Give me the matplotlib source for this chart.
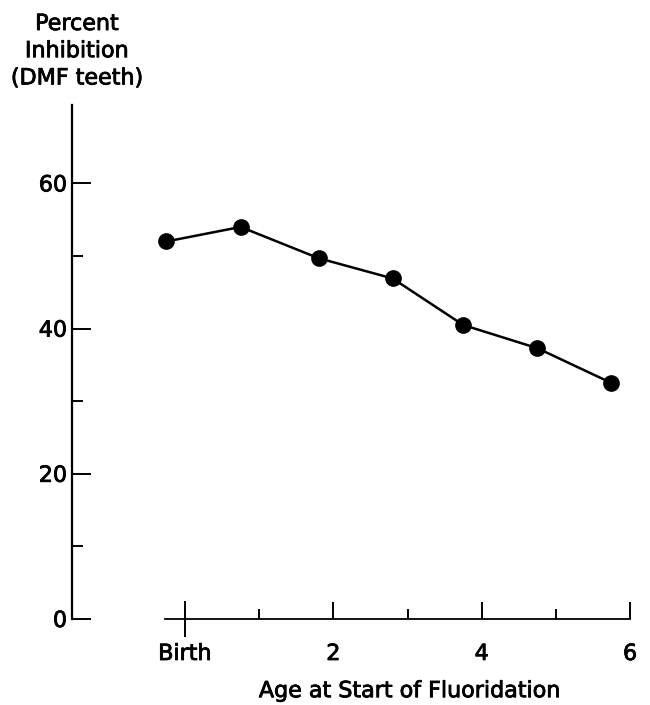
import matplotlib
matplotlib.use('Agg')
import matplotlib.pyplot as plt
import matplotlib.patheffects as pe
from matplotlib.ticker import FixedLocator

plt.rcParams['font.family'] = ['DejaVu Sans']

# age at start of fluoridation (years, 0 = birth) and percent inhibition
age = [-0.25, 0.75, 1.8, 2.8, 3.75, 4.75, 5.75]
inhibition = [52.0, 54.0, 49.7, 46.9, 40.5, 37.3, 32.5]

xticks = [0, 2, 4, 6]
xticklabels = ['Birth', '2', '4', '6']
xminor = [1, 3, 5]
yticks = [0, 20, 40, 60]
yminor = [10, 30, 50]

# slightly heavier strokes, like the printed original
heavy = [pe.withStroke(linewidth=0.6, foreground='black')]

fig = plt.figure(figsize=(6.5, 7.05), dpi=100)
ax = fig.add_axes([0.1108, 0.1220, 0.975 - 0.1108, 0.8511 - 0.1220])

ax.plot(age, inhibition, color='black', lw=1.8, marker='o', ms=11,
        markerfacecolor='black', clip_on=False)

ax.set_xlim(-1.523, 6.05)
ax.set_ylim(0, 70.8)

for side in ['top', 'right']:
    ax.spines[side].set_visible(False)
ax.spines['left'].set_linewidth(1.6)
ax.spines['bottom'].set_linewidth(1.3)
ax.spines['bottom'].set_bounds(-0.27, 6)

ax.set_yticks(yticks)
ax.yaxis.set_minor_locator(FixedLocator(yminor))
ax.set_xticks(xticks)
ax.set_xticklabels(xticklabels)
ax.xaxis.set_minor_locator(FixedLocator(xminor))

ax.tick_params(axis='y', which='major', direction='in', length=13.5, width=1.4,
               labelsize=16, pad=3.5)
ax.tick_params(axis='y', which='minor', direction='in', length=8, width=1.4)
ax.tick_params(axis='x', which='major', direction='in', length=12, width=1.4,
               labelsize=16, pad=18)
ax.tick_params(axis='x', which='minor', direction='in', length=7.5, width=1.4)

# the birth tick crosses the axis line
birth = ax.xaxis.get_major_ticks()[0]
birth.tick1line.set_marker('|')
birth.tick1line.set_markersize(26.5)

for lab in ax.get_xticklabels() + ax.get_yticklabels():
    lab.set_path_effects(heavy)

ax.set_xlabel('Age at Start of Fluoridation', fontsize=16, path_effects=heavy)
ax.xaxis.set_label_coords(0.602, -0.121)

fig.text(77 / 650, 1 - 14 / 705, 'Percent\nInhibition\n(DMF teeth)',
         ha='center', va='top', fontsize=16, linespacing=1.45,
         multialignment='center', path_effects=heavy)

fig.savefig('out.png', dpi=100)
